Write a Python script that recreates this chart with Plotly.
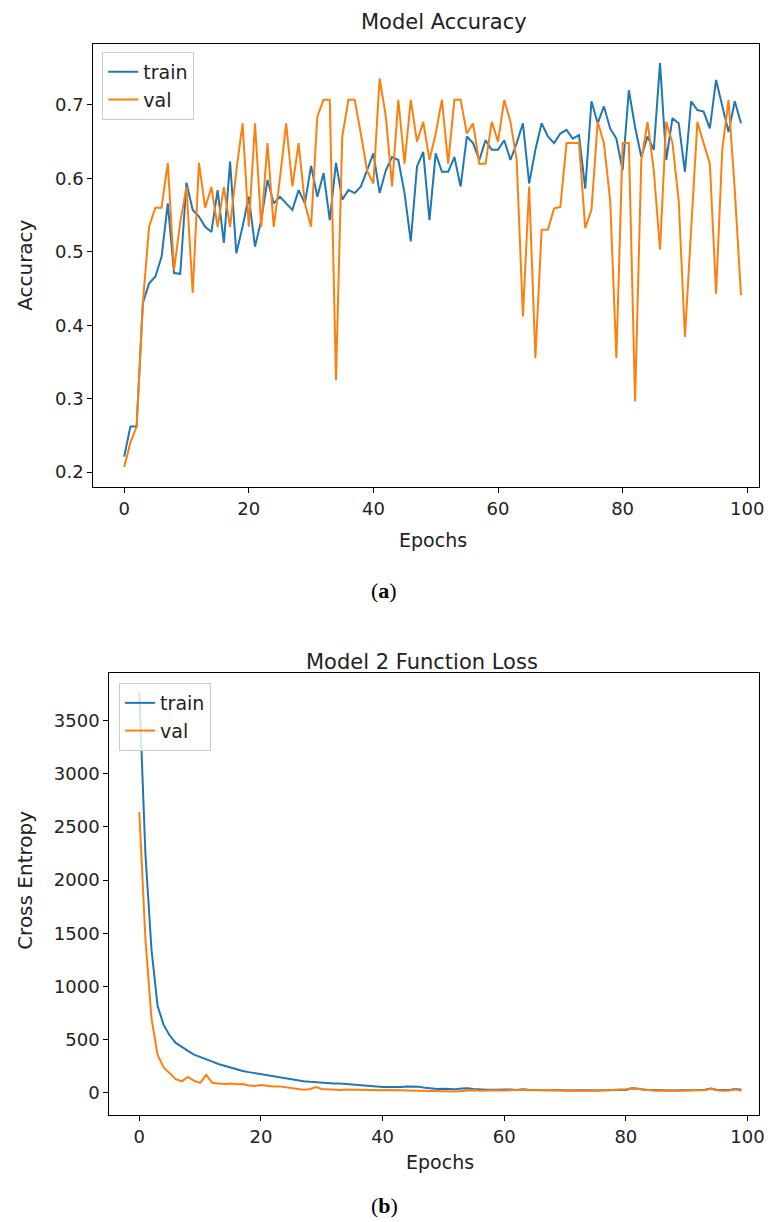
import plotly.graph_objects as go

# ---- data ----
epochs = list(range(100))

acc_train = [0.221, 0.262, 0.262, 0.430, 0.457, 0.466, 0.493, 0.566, 0.471, 0.470,
             0.594, 0.557, 0.548, 0.534, 0.527, 0.584, 0.512, 0.623, 0.498, 0.534,
             0.575, 0.507, 0.543, 0.598, 0.566, 0.575, 0.566, 0.557, 0.584, 0.566,
             0.617, 0.575, 0.607, 0.543, 0.621, 0.571, 0.584, 0.580, 0.589, 0.612,
             0.634, 0.580, 0.611, 0.629, 0.625, 0.580, 0.514, 0.616, 0.636, 0.543,
             0.634, 0.609, 0.609, 0.629, 0.589, 0.657, 0.648, 0.625, 0.652, 0.639,
             0.639, 0.652, 0.625, 0.648, 0.675, 0.593, 0.639, 0.675, 0.657, 0.648,
             0.661, 0.666, 0.654, 0.659, 0.586, 0.705, 0.675, 0.698, 0.668, 0.654,
             0.611, 0.720, 0.670, 0.629, 0.657, 0.639, 0.757, 0.625, 0.682, 0.675,
             0.609, 0.705, 0.693, 0.691, 0.668, 0.734, 0.698, 0.663, 0.705, 0.675]

acc_val = [0.207, 0.240, 0.262, 0.430, 0.534, 0.560, 0.560, 0.621, 0.475, 0.540,
           0.588, 0.444, 0.621, 0.560, 0.588, 0.534, 0.588, 0.534, 0.610, 0.675,
           0.534, 0.675, 0.534, 0.648, 0.534, 0.600, 0.675, 0.589, 0.648, 0.566,
           0.534, 0.684, 0.707, 0.707, 0.325, 0.657, 0.707, 0.707, 0.660, 0.610,
           0.593, 0.736, 0.684, 0.589, 0.707, 0.620, 0.707, 0.650, 0.677, 0.625,
           0.661, 0.707, 0.620, 0.707, 0.707, 0.661, 0.675, 0.620, 0.620, 0.677,
           0.650, 0.707, 0.677, 0.625, 0.412, 0.589, 0.355, 0.530, 0.530, 0.559,
           0.561, 0.648, 0.648, 0.648, 0.532, 0.557, 0.677, 0.648, 0.570, 0.355,
           0.648, 0.648, 0.296, 0.625, 0.677, 0.611, 0.503, 0.677, 0.648, 0.570,
           0.384, 0.534, 0.677, 0.648, 0.620, 0.443, 0.640, 0.707, 0.584, 0.441]

loss_train = [3760, 2250, 1350, 820, 640, 540, 470, 430, 395, 360,
              340, 320, 295, 272, 255, 240, 222, 207, 196, 186,
              180, 172, 160, 150, 137, 126, 118, 111, 105, 100,
              96, 92, 88, 90, 85, 78, 70, 65, 60, 58,
              55, 56, 52, 55, 60, 62, 58, 48, 40, 38,
              40, 38, 36, 42, 45, 38, 32, 30, 30, 32,
              30, 33, 28, 35, 30, 27, 30, 26, 28, 25,
              27, 24, 26, 28, 25, 24, 27, 25, 26, 30,
              28, 45, 40, 30, 28, 26, 25, 27, 24, 26,
              25, 24, 27, 30, 42, 28, 25, 27, 38, 30]

loss_val = [2640, 1450, 700, 360, 240, 180, 130, 110, 150, 115,
            95, 170, 95, 90, 85, 88, 82, 85, 70, 65,
            75, 68, 60, 62, 55, 45, 42, 30, 35, 55,
            38, 35, 30, 28, 32, 30, 28, 26, 30, 27,
            25, 28, 30, 26, 24, 22, 25, 20, 18, 15,
            16, 14, 15, 18, 22, 25, 20, 24, 22, 26,
            24, 28, 25, 30, 26, 22, 25, 28, 24, 22,
            20, 23, 25, 22, 20, 24, 22, 25, 28, 30,
            35, 45, 38, 30, 25, 22, 24, 26, 22, 20,
            22, 24, 26, 28, 40, 25, 22, 24, 35, 20]

BLUE = "#1f77b4"
ORANGE = "#ff7f0e"
FONT = "DejaVu Sans"
# the page body has an 8px margin, so the figure is shrunk by that much
OFF = 8
W, H = 774 - OFF, 1222 - OFF


def px(x):
    return (x - OFF) / W


def py(y):
    return 1 - (y - OFF) / H


fig = go.Figure()

fig.add_trace(go.Scatter(x=epochs, y=acc_train, name="train", mode="lines",
                         line=dict(color=BLUE, width=2), xaxis="x", yaxis="y", legend="legend"))
fig.add_trace(go.Scatter(x=epochs, y=acc_val, name="val", mode="lines",
                         line=dict(color=ORANGE, width=2), xaxis="x", yaxis="y", legend="legend"))
fig.add_trace(go.Scatter(x=epochs, y=loss_train, name="train", mode="lines",
                         line=dict(color=BLUE, width=2), xaxis="x2", yaxis="y2", legend="legend2"))
fig.add_trace(go.Scatter(x=epochs, y=loss_val, name="val", mode="lines",
                         line=dict(color=ORANGE, width=2), xaxis="x2", yaxis="y2", legend="legend2"))

axis_common = dict(showline=True, mirror=True, linecolor="black", linewidth=1,
                   ticks="outside", ticklen=5, tickcolor="black", showgrid=False,
                   zeroline=False, tickfont=dict(family=FONT, size=18, color="#222"))

legend_common = dict(bgcolor="rgba(255,255,255,0.8)", bordercolor="#cccccc", borderwidth=1,
                     font=dict(family=FONT, size=19, color="#222"),
                     entrywidth=82, xanchor="left", yanchor="top")

fig.update_layout(
    width=W, height=H,
    margin=dict(l=0, r=0, t=0, b=0),
    paper_bgcolor="white", plot_bgcolor="white",
    xaxis=dict(domain=[px(94), px(765)], range=[-4.95, 101.9], anchor="y",
               tickvals=[0, 20, 40, 60, 80, 100], **axis_common),
    yaxis=dict(domain=[py(487), py(44)], range=[0.1796, 0.783], anchor="x",
               tickvals=[0.2, 0.3, 0.4, 0.5, 0.6, 0.7], tickformat=".1f", **axis_common),
    xaxis2=dict(domain=[px(110), px(765)], range=[-4.95, 101.9], anchor="y2",
                tickvals=[0, 20, 40, 60, 80, 100], **axis_common),
    yaxis2=dict(domain=[py(1115), py(673)], range=[-207, 3947], anchor="x2",
                tickvals=[0, 500, 1000, 1500, 2000, 2500, 3000, 3500], tickformat="d",
                **axis_common),
    legend=dict(x=px(103), y=py(52), **legend_common),
    legend2=dict(x=px(120), y=py(683), **legend_common),
)

texts = [
    ("Model Accuracy", 447, 22, 21, 0, FONT),
    ("Epochs", 436, 540, 19, 0, FONT),
    ("Accuracy", 25, 265, 20, -90, FONT),
    ("(<b>a</b>)", 387, 590, 22, 0, "Liberation Serif"),
    ("Model 2 Function Loss", 425, 662, 21, 0, FONT),
    ("Epochs", 443, 1162, 19, 0, FONT),
    ("Cross Entropy", 25, 880, 20, -90, FONT),
    ("(<b>b</b>)", 387, 1205, 22, 0, "Liberation Serif"),
]
for t, x, y, size, ang, fam in texts:
    fig.add_annotation(text=t, x=px(x), y=py(y), xref="paper", yref="paper",
                       xanchor="center", yanchor="middle", showarrow=False, textangle=ang,
                       font=dict(family=fam, size=size, color="#222" if fam == FONT else "black"))

fig.write_html("out.html")
